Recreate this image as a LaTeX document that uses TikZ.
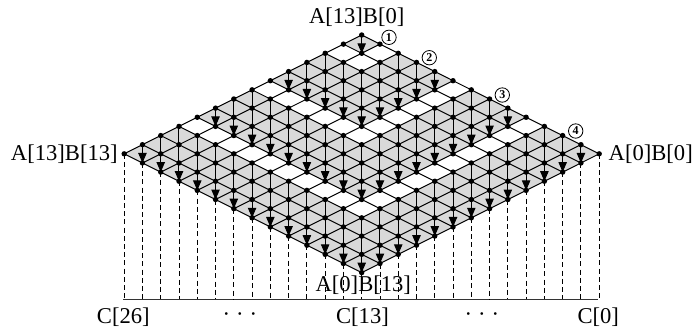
\documentclass[tikz,border=0pt]{standalone}
\usepackage{fontspec}
\setmainfont{Liberation Serif}
\usepackage{tikz}
\usetikzlibrary{arrows.meta,positioning}

\begin{document}
\begin{tikzpicture}[
    x=0.5pt, y=-0.5pt,
    every node/.style={font=\fontsize{11.3}{13}\selectfont},
    dot/.style={circle, fill=black, inner sep=0pt, minimum size=2.7pt},
    edge/.style={line width=0.5pt, black},
    arr/.style={-{Triangle[length=5pt,width=4.2pt]}, line width=0.5pt},
    drop/.style={dash pattern=on 2.5pt off 1.6pt, line width=0.45pt},
    num/.style={draw, circle, inner sep=0pt, minimum size=7.2pt, line width=0.4pt,
                font=\fontsize{6}{6}\selectfont\bfseries}
  ]
    \useasboundingbox (0,0) rectangle (693,329);

    % Lattice points
    \foreach \i in {0,...,13}
      \foreach \j in {0,...,13}
        \coordinate (p-\i-\j) at ({361.7+18.27*(\j-\i)},{35+9.14*(\i+\j)});

    % Gray sheet with white chevrons
    \fill[gray!30] (p-0-0) -- (p-13-0) -- (p-13-13) -- (p-0-13) -- cycle;
    \foreach \k [evaluate=\k as \n using int(\k+1)] in {1,5,9}
      \fill[white] (p-\k-0) -- (p-\n-0) -- (p-\n-\n) -- (p-0-\n) -- (p-0-\k) -- (p-\k-\k) -- cycle;

    % Projection onto the C axis
    \coordinate (c-left) at (123.3,299);
    \coordinate (c-right) at (598.3,299);
    \draw[edge, black!80] (c-left) -- (c-right);
    \foreach \k in {0,...,13} {
      \draw[drop] (p-13-\k) -- (p-13-\k |- c-left);
      \draw[drop] (p-\k-13) -- (p-\k-13 |- c-left);
    }

    % Grid lines
    \foreach \k in {0,...,13} {
      \draw[edge] (p-\k-0) -- (p-\k-13);
      \draw[edge] (p-0-\k) -- (p-13-\k);
    }

    % Verticals, arrow at the end of each run
    \foreach \i in {0,...,12}
      \foreach \j in {0,...,12} {
        \pgfmathtruncatemacro{\ni}{\i+1}
        \pgfmathtruncatemacro{\nj}{\j+1}
        \pgfmathtruncatemacro{\m}{mod(max(\i,\j),4)}
        \ifnum\m=0
          \draw[arr] (p-\i-\j) -- (p-\ni-\nj);
        \else\ifnum\m=1\else
          \draw[edge] (p-\i-\j) -- (p-\ni-\nj);
        \fi\fi
      }

    % Dots
    \foreach \i in {0,...,13}
      \foreach \j in {0,...,13}
        \node[dot] (d-\i-\j) at (p-\i-\j) {};

    % Corner labels
    \node (top) at (356.7,17) {A[13]B[0]};
    \node[left=1.5pt of d-13-0, inner sep=0pt] (left) {A[13]B[13]};
    \node[right=3pt of d-0-13, inner sep=0pt] (right) {A[0]B[0]};
    \node (bot) at (363.3,285) {A[0]B[13]};
    \node (c26) at (123.3,317) {C[26]};
    \node (c13) at (362.5,317) {C[13]};
    \node (c0) at (598.3,317) {C[0]};
    \node (dotsl) at (240,317) {·\hspace{3pt}·\hspace{3pt}·};
    \node (dotsr) at (482,317) {·\hspace{3pt}·\hspace{3pt}·};

    % Circled block numbers
    \node[num] (n1) at (389,37.3) {1};
    \node[num] (n2) at (429.3,57.7) {2};
    \node[num] (n3) at (502.3,95) {3};
    \node[num] (n4) at (575.7,131) {4};
\end{tikzpicture}
\end{document}
